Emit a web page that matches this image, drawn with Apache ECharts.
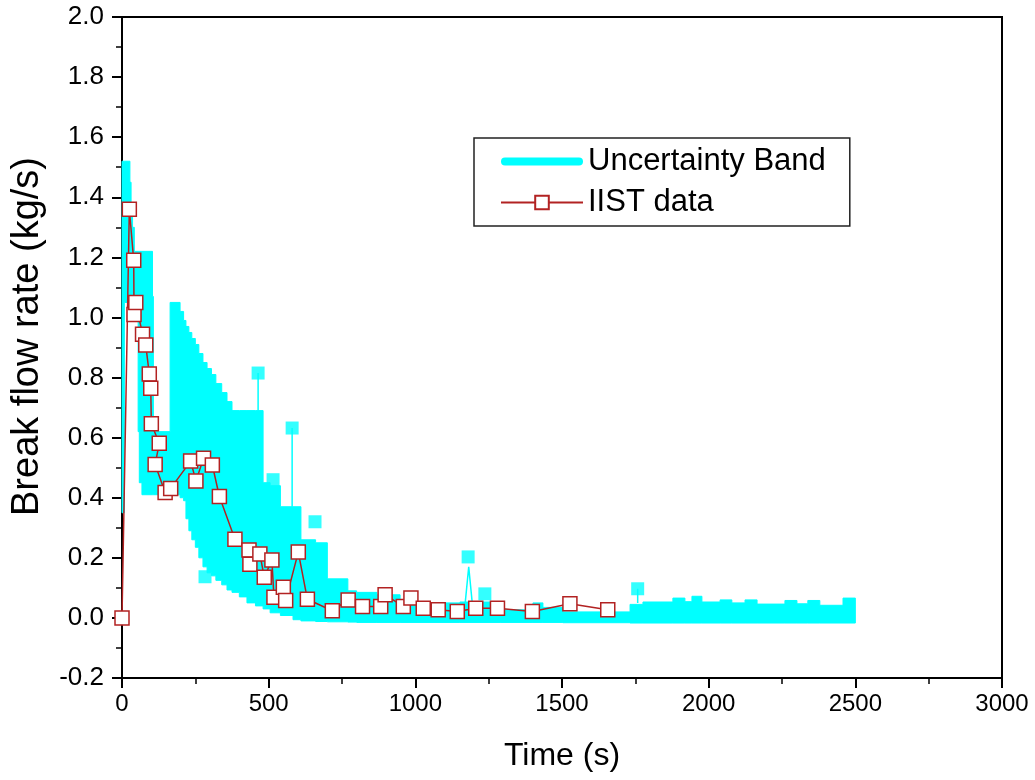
<!DOCTYPE html>
<html><head><meta charset="utf-8">
<script src="https://cdn.jsdelivr.net/npm/echarts@6/dist/echarts.min.js"></script>
<style>html,body{margin:0;padding:0;background:#fff}#c{width:1035px;height:780px}</style>
</head><body><div id="c"></div>
<script>
// ---- IIST measured data (time s, break flow kg/s) ----
const iistTime = [0, 25, 40, 41, 47, 70, 81, 93, 98, 100, 127, 113, 147, 166, 234, 252, 278, 308, 332, 385, 433, 436, 470, 485, 511, 518, 550, 558, 601, 632, 717, 771, 820, 882, 897, 959, 985, 1027, 1078, 1143, 1206, 1280, 1399, 1527, 1656];
const iistFlow = [0.0, 1.36, 1.19, 1.01, 1.05, 0.944, 0.908, 0.812, 0.764, 0.646, 0.581, 0.511, 0.417, 0.431, 0.522, 0.456, 0.531, 0.509, 0.404, 0.262, 0.226, 0.179, 0.213, 0.135, 0.193, 0.069, 0.102, 0.058, 0.219, 0.062, 0.024, 0.06, 0.038, 0.038, 0.077, 0.038, 0.066, 0.032, 0.027, 0.021, 0.032, 0.032, 0.021, 0.047, 0.027];

// ---- Uncertainty band envelope (value holds from each time to the next) ----
const bandTime  = [0, 8, 27, 31, 36, 42, 55, 59, 68, 104, 107, 164, 198, 210, 218, 228, 238, 250, 262, 276, 290, 305, 320, 340, 358, 375, 400, 426, 455, 481, 505, 540, 583, 610, 660, 700, 770, 800, 869, 948, 1152, 1289, 1401, 1435, 1503, 1732, 1776, 1878, 1919, 1943, 1977, 2039, 2079, 2124, 2165, 2260, 2301, 2338, 2379, 2458, 2500];
const bandUpper = [1.52, 1.52, 1.45, 1.38, 1.30, 1.22, 1.22, 1.22, 1.22, 1.07, 0.62, 1.05, 1.02, 0.99, 0.97, 0.95, 0.93, 0.91, 0.88, 0.85, 0.83, 0.81, 0.78, 0.75, 0.72, 0.69, 0.69, 0.69, 0.69, 0.45, 0.44, 0.37, 0.37, 0.26, 0.25, 0.13, 0.09, 0.085, 0.077, 0.05, 0.053, 0.027, 0.05, 0.035, 0.02, 0.045, 0.053, 0.066, 0.054, 0.072, 0.053, 0.06, 0.05, 0.06, 0.046, 0.058, 0.047, 0.058, 0.042, 0.066, 0.066];
const bandLower = [0.35, 1.05, 1.05, 1.05, 1.02, 1.00, 0.62, 0.45, 0.41, 0.41, 0.41, 0.41, 0.40, 0.39, 0.33, 0.29, 0.26, 0.235, 0.20, 0.17, 0.15, 0.14, 0.125, 0.11, 0.093, 0.085, 0.07, 0.05, 0.04, 0.03, 0.017, 0.008, -0.006, -0.01, -0.012, -0.013, -0.014, -0.015, -0.015, -0.015, -0.015, -0.015, -0.015, -0.015, -0.016, -0.017, -0.017, -0.017, -0.017, -0.017, -0.017, -0.017, -0.017, -0.017, -0.017, -0.017, -0.017, -0.017, -0.017, -0.017, -0.017];

// ---- isolated band points and spikes ----
const markerTime = [464, 580, 515, 658, 283, 1180, 1237, 1758];
const markerFlow = [0.815, 0.632, 0.46, 0.32, 0.137, 0.203, 0.08, 0.097];
const spikeTime = [464, 464, 464, 580, 580, 580, 1168, 1182, 1196, 1196, 1758, 1758];
const spikeFlow = [0.69, 0.815, null, 0.37, 0.632, null, 0.03, 0.17, 0.03, null, 0.05, 0.097];

// ---- axes ----
const xMin = 0, xMax = 3000, xStep = 500;
const yMin = -0.2, yMax = 2.0, yStep = 0.2;

const FONT = 'Liberation Sans, Arial, sans-serif';
const CYAN = '#00FFFF';
const RED = '#b22222';

const chart = echarts.init(document.getElementById('c'), null, {renderer: 'canvas'});
const axisCommon = {
  axisLine: {show: true, onZero: false, lineStyle: {color: '#000', width: 2}},
  axisTick: {show: true, inside: false, length: 10, lineStyle: {color: '#000', width: 2}},
  minorTick: {show: true, splitNumber: 2, length: 6, lineStyle: {color: '#000', width: 1.5}},
  splitLine: {show: false},
  minorSplitLine: {show: false},
  nameTextStyle: {fontFamily: FONT, fontSize: 32, color: '#000'}
};

function renderBand(params, api) {
  const up = [], low = [];
  const n = bandTime.length;
  for (let i = 0; i < n; i++) {
    const t0 = bandTime[i];
    const t1 = i < n - 1 ? bandTime[i + 1] : bandTime[i];
    up.push(api.coord([t0, bandUpper[i]]), api.coord([t1, bandUpper[i]]));
    low.push(api.coord([t0, bandLower[i]]), api.coord([t1, bandLower[i]]));
  }
  const pts = up.concat(low.reverse());
  return {type: 'polygon', shape: {points: pts}, style: {fill: CYAN, stroke: CYAN, lineWidth: 1}};
}

chart.setOption({
  animation: false,
  backgroundColor: '#fff',
  grid: {left: 122, right: 33, top: 17, bottom: 102, containLabel: false, outerBoundsMode: 'none',
         show: true, borderColor: '#000', borderWidth: 2, backgroundColor: 'transparent'},
  legend: {
    orient: 'vertical', left: 474, top: 138,
    data: [
      {name: 'Uncertainty Band', icon: 'path://M4,0 L78,0 A4,4 0 0 1 78,8 L4,8 A4,4 0 0 1 4,0 Z'},
      {name: 'IIST data'}
    ],
    itemWidth: 82, itemHeight: 17, itemGap: 10,
    padding: [8, 24, 8, 26],
    borderColor: '#222', borderWidth: 1.5, backgroundColor: '#fff',
    selectedMode: false,
    textStyle: {fontFamily: FONT, fontSize: 31, color: '#000'}
  },
  xAxis: Object.assign({}, axisCommon, {
    type: 'value', min: xMin, max: xMax, interval: xStep,
    name: 'Time (s)', nameLocation: 'middle', nameGap: 62,
    axisLabel: {fontFamily: FONT, fontSize: 24, color: '#000', margin: 14, formatter: v => String(v)}
  }),
  yAxis: Object.assign({}, axisCommon, {
    type: 'value', min: yMin, max: yMax, interval: yStep,
    name: 'Break flow rate (kg/s)', nameLocation: 'middle', nameGap: 75, nameRotate: 90,
    nameTextStyle: {fontFamily: FONT, fontSize: 38, color: '#000', padding: [0, 0, 0, 22]},
    axisLabel: {fontFamily: FONT, fontSize: 26, color: '#000', margin: 18,
                formatter: v => v.toFixed(1)}
  }),
  series: [
    {type: 'custom', name: 'Uncertainty Band', data: [[0, 0]], renderItem: renderBand,
     itemStyle: {color: CYAN}, silent: true, z: 2, encode: {x: 0, y: 1}},
    {type: 'line', name: 'bandSpikes', data: spikeTime.map((t, i) => [t, spikeFlow[i]]),
     symbol: 'none', connectNulls: false, silent: true,
     lineStyle: {color: CYAN, width: 1.5}, z: 2},
    {type: 'scatter', name: 'bandMarkers', data: markerTime.map((t, i) => [t, markerFlow[i]]),
     symbol: 'rect', symbolSize: 13, itemStyle: {color: CYAN}, silent: true, z: 2},
    {type: 'line', name: 'IIST data', data: iistTime.map((t, i) => [t, iistFlow[i]]),
     symbol: 'rect', symbolSize: 14, showSymbol: true,
     lineStyle: {color: RED, width: 1.5},
     itemStyle: {color: '#fff', borderColor: RED, borderWidth: 1.5}, z: 5}
  ]
});
</script></body></html>
